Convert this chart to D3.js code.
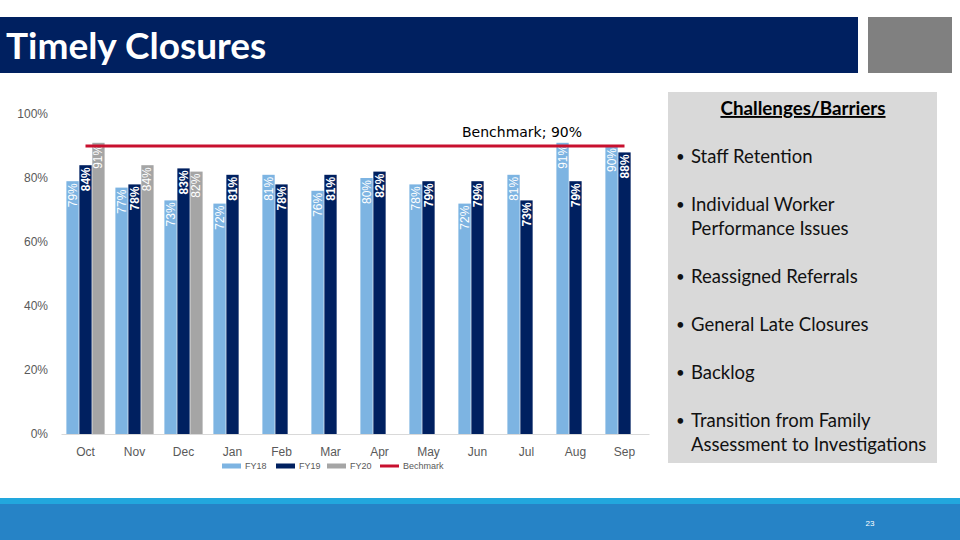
<!DOCTYPE html>
<html>
<head>
<meta charset="utf-8">
<script src="https://cdn.jsdelivr.net/npm/d3@7"></script>
<style>
  html, body { margin: 0; padding: 0; background: #ffffff; }
  svg { display: block; }
</style>
</head>
<body>
<svg id="chart" width="960" height="540"></svg>
<script>
// ---- data ----
const months = ["Oct", "Nov", "Dec", "Jan", "Feb", "Mar", "Apr", "May", "Jun", "Jul", "Aug", "Sep"];
const seriesNames = ["FY18", "FY19", "FY20"];
const fy18 = [79, 77, 73, 72, 81, 76, 80, 78, 72, 81, 91, 90];
const fy19 = [84, 78, 83, 81, 78, 81, 82, 79, 79, 73, 79, 88];
const fy20 = [91, 84, 82, null, null, null, null, null, null, null, null, null];
const benchmark = [90, 90, 90, 90, 90, 90, 90, 90, 90, 90, 90, 90];
const yTicks = [0, 20, 40, 60, 80, 100];
const legendLabels = ["FY18", "FY19", "FY20", "Bechmark"];
const benchmarkLabel = "Benchmark; 90%";
const title = "Timely Closures";
const boxTitle = "Challenges/Barriers";
const bullets = [
  ["Staff Retention"],
  ["Individual Worker", "Performance Issues"],
  ["Reassigned Referrals"],
  ["General Late Closures"],
  ["Backlog"],
  ["Transition from Family", "Assessment to Investigations"]
];
const pageNumber = "23";

// ---- styles ----
const colors = { FY18: "#7db4e2", FY19: "#002060", FY20: "#a5a5a5", bench: "#c8102e" };
const axisFont = "'Liberation Sans', Arial, sans-serif";
const textFont = "Lato, 'Open Sans', sans-serif";

const svg = d3.select("#chart");

// ---- header ----
svg.append("rect").attr("x", 0).attr("y", 17).attr("width", 858).attr("height", 56).attr("fill", "#002060");
svg.append("rect").attr("x", 868).attr("y", 17).attr("width", 84).attr("height", 56).attr("fill", "#808080");
svg.append("text").attr("x", 6).attr("y", 59)
  .attr("font-family", textFont).attr("font-size", 37).attr("font-weight", 700)
  .attr("fill", "#ffffff").text(title);

// ---- footer ----
svg.append("rect").attr("x", 0).attr("y", 498).attr("width", 960).attr("height", 7).attr("fill", "#22a7dd");
svg.append("rect").attr("x", 0).attr("y", 504).attr("width", 960).attr("height", 36).attr("fill", "#2683c6");
svg.append("text").attr("x", 870).attr("y", 526).attr("text-anchor", "middle")
  .attr("font-family", axisFont).attr("font-size", 8).attr("fill", "#ffffff").text(pageNumber);

// ---- scales ----
const y = d3.scaleLinear().domain([0, 100]).range([434, 114]);
const x0 = d3.scaleBand().domain(months).range([61, 649]).paddingInner(0.22).paddingOuter(0.11);
const x1 = d3.scaleBand().domain(seriesNames).range([0, x0.bandwidth()]).paddingInner(0.05);

const rows = months.map((m, i) => ({ month: m, values: [
  { key: "FY18", v: fy18[i] }, { key: "FY19", v: fy19[i] }, { key: "FY20", v: fy20[i] }
]}));

// ---- y axis ----
const yAxis = svg.append("g").attr("transform", "translate(50,0)")
  .call(d3.axisLeft(y).tickValues(yTicks).tickFormat(d => d + "%").tickSize(0).tickPadding(2));
yAxis.select(".domain").remove();
yAxis.selectAll("text").attr("font-family", axisFont).attr("font-size", 12).attr("fill", "#595959");

// ---- x axis ----
const xAxis = svg.append("g").attr("transform", "translate(0,434)")
  .call(d3.axisBottom(x0).tickSize(0).tickPadding(13));
xAxis.select(".domain").attr("stroke", "#d9d9d9");
xAxis.selectAll("text").attr("font-family", axisFont).attr("font-size", 12).attr("fill", "#595959");

// ---- bars ----
const groups = svg.append("g").selectAll("g").data(rows).join("g")
  .attr("transform", d => `translate(${x0(d.month)},0)`);
const barData = d => d.values.filter(v => v.v != null);
groups.selectAll("rect").data(barData).join("rect")
  .attr("x", d => x1(d.key)).attr("width", x1.bandwidth())
  .attr("y", d => y(d.v)).attr("height", d => y(0) - y(d.v))
  .attr("fill", d => colors[d.key]);
groups.selectAll("text").data(barData).join("text")
  .attr("transform", d => `translate(${x1(d.key) + x1.bandwidth() / 2},${y(d.v) + 2}) rotate(-90)`)
  .attr("text-anchor", "end").attr("dominant-baseline", "central")
  .attr("font-family", axisFont).attr("font-size", 12)
  .attr("font-weight", d => d.key === "FY19" ? 700 : 400)
  .attr("fill", "#ffffff")
  .text(d => d.v + "%");

// ---- benchmark line ----
const line = d3.line().x((d, i) => x0(months[i]) + x0.bandwidth() / 2).y(d => y(d));
svg.append("path").datum(benchmark).attr("d", line)
  .attr("fill", "none").attr("stroke", colors.bench).attr("stroke-width", 3);
svg.append("text").attr("x", 522).attr("y", 137).attr("text-anchor", "middle")
  .attr("font-family", "'DejaVu Sans', sans-serif").attr("font-size", 14).attr("fill", "#000000")
  .text(benchmarkLabel);

// ---- legend ----
const legendX = [222, 276, 327, 380];
const legendColors = [colors.FY18, colors.FY19, colors.FY20, colors.bench];
const lg = svg.append("g").selectAll("g").data(legendLabels).join("g")
  .attr("transform", (d, i) => `translate(${legendX[i]},466)`);
lg.append("rect").attr("x", 0).attr("y", (d, i) => i === 3 ? -1.5 : -2.5)
  .attr("width", 19).attr("height", (d, i) => i === 3 ? 3 : 5)
  .attr("fill", (d, i) => legendColors[i]);
lg.append("text").attr("x", 23).attr("y", 0).attr("dominant-baseline", "central")
  .attr("font-family", axisFont).attr("font-size", 9).attr("fill", "#595959").text(d => d);

// ---- right box ----
svg.append("rect").attr("x", 668).attr("y", 92).attr("width", 269).attr("height", 371).attr("fill", "#d9d9d9");
svg.append("text").attr("x", 803).attr("y", 115).attr("text-anchor", "middle")
  .attr("font-family", textFont).attr("font-size", 18.8).attr("font-weight", 700)
  .attr("text-decoration", "underline").attr("fill", "#000000").text(boxTitle);
const itemY = [163, 211, 283, 331, 379, 427];
bullets.forEach((lines, i) => {
  svg.append("text").attr("x", 676).attr("y", itemY[i] - 1)
    .attr("font-family", textFont).attr("font-size", 15).attr("fill", "#111111").text("\u2022");
  lines.forEach((t, j) => {
    svg.append("text").attr("x", 691).attr("y", itemY[i] + j * 24)
      .attr("font-family", textFont).attr("font-size", 18.5).attr("fill", "#111111").text(t);
  });
});
</script>
</body>
</html>
